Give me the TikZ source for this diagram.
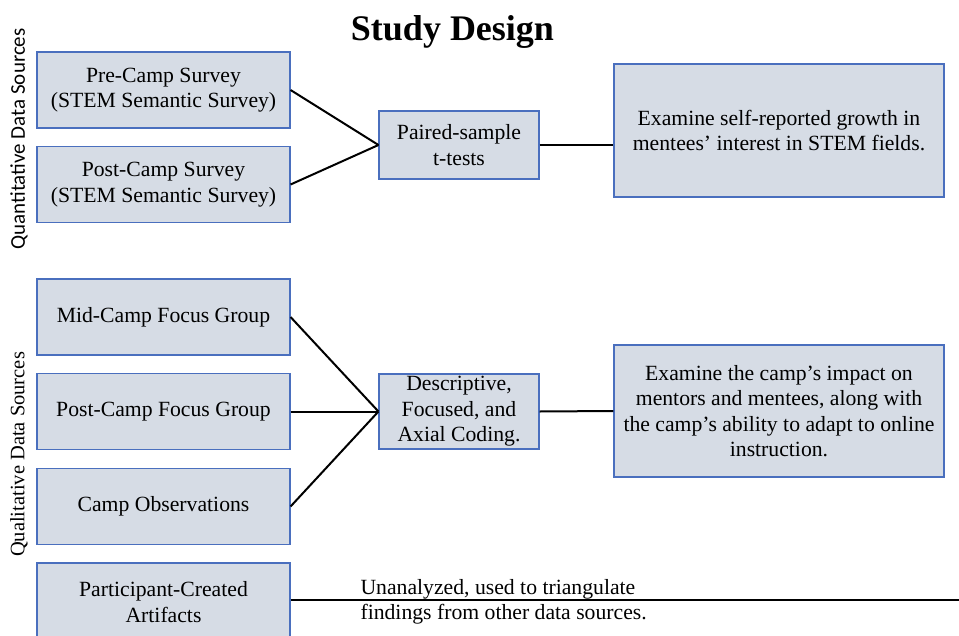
\documentclass[tikz,border=0pt]{standalone}
\usepackage{fontspec}
\setmainfont{Liberation Serif}
\newfontfamily\sidefont{Carlito}
\usetikzlibrary{positioning}
\definecolor{boxfill}{HTML}{D6DCE5}
\definecolor{boxline}{HTML}{4A6FBE}
\tikzset{
  srcbox/.style  = {rectangle, draw=boxline, fill=boxfill, line width=1.1pt,
                    minimum width=253pt, minimum height=76pt,
                    inner sep=0pt, align=center},
  codebox/.style = {rectangle, draw=boxline, fill=boxfill, line width=1.1pt,
                    minimum width=160pt, inner sep=0pt, align=center},
  goalbox/.style = {rectangle, draw=boxline, fill=boxfill, line width=1.1pt,
                    minimum width=330pt, minimum height=132pt,
                    inner sep=0pt, align=center},
  link/.style    = {line width=2pt, black},
}

\begin{document}
\begin{tikzpicture}[x=1pt, y=-1pt, font=\rmfamily\fontsize{21.7}{25.5}\selectfont]
  % page frame (pixel grid of the reference)
  \useasboundingbox (0,0) rectangle (959,635);
  \clip (0,0) rectangle (959,635);

  % title
  \node[anchor=base, font=\rmfamily\bfseries\fontsize{36}{40}\selectfont] (title)
    at (452.5,40) {Study Design};

  % side labels
  \node[rotate=90, font=\sidefont\fontsize{21}{25}\selectfont] (quant)
    at (19,139) {Quantitative Data Sources};
  \node[rotate=90, font=\rmfamily\fontsize{20.5}{25}\selectfont] (qual)
    at (19,454.5) {Qualitative Data Sources};

  % quantitative strand
  \node[srcbox] (pre)  at (163.5,90)  {Pre-Camp Survey\\(STEM Semantic Survey)};
  \node[srcbox] (post) at (163.5,184.5) {Post-Camp Survey\\(STEM Semantic Survey)};
  \node[codebox, minimum height=68pt] (paired) at (459,145) {Paired-sample\\t-tests};
  \node[goalbox, minimum height=133pt] (growth) at (779,130.5)
    {Examine self-reported growth in\\mentees’ interest in STEM fields.};

  \draw[link] (pre.east) -- (paired.west);
  \draw[link] (post.east) -- (paired.west);
  \draw[link] (paired.east) -- (paired.east -| growth.west);

  % qualitative strand
  \node[srcbox] (midfg)  at (163.5,317)   {Mid-Camp Focus Group};
  \node[srcbox] (postfg) at (163.5,411.5) {Post-Camp Focus Group};
  \node[srcbox] (obs)    at (163.5,506.5) {Camp Observations};
  \node[codebox, minimum height=75pt] (coding) at (459,411.5)
    {Descriptive,\\Focused, and\\Axial Coding.};
  \node[goalbox] (impact) at (779,411)
    {Examine the camp’s impact on\\mentors and mentees, along with\\the camp’s ability to adapt to online\\instruction.};

  \draw[link] (midfg.east) -- (coding.west);
  \draw[link] (postfg.east) -- (coding.west);
  \draw[link] (obs.east) -- (coding.west);
  \draw[link] (coding.east) -- (impact.west);

  % artifacts, not analysed
  \node[srcbox, minimum height=78pt] (artif) at (163.5,602)
    {Participant-Created\\Artifacts};
  \coordinate (rim) at (959,600);
  \draw[link] (artif.east |- rim) -- (rim);
  \node[anchor=west, align=left] (note) at (357,602)
    {Unanalyzed, used to triangulate\\findings from other data sources.};
\end{tikzpicture}
\end{document}
